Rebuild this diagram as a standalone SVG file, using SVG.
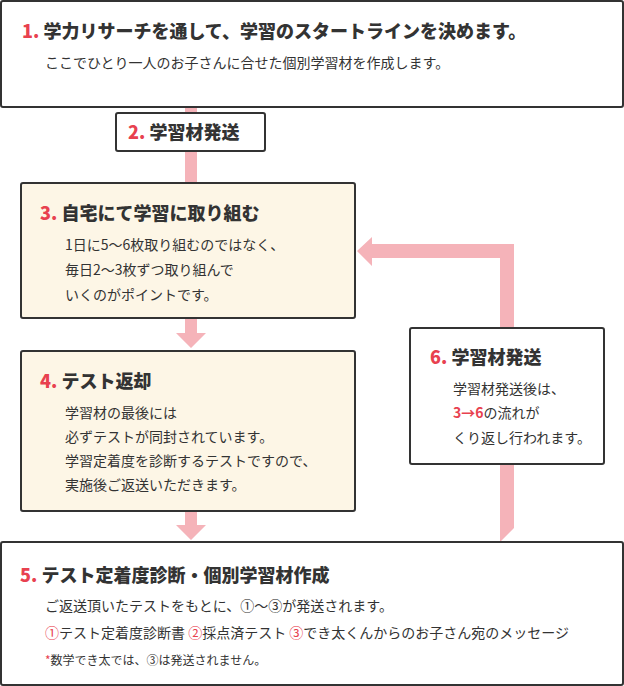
<svg xmlns="http://www.w3.org/2000/svg" width="624" height="686" viewBox="0 0 624 686">
<style>
text{font-family:"Noto Sans CJK JP","Noto Sans",sans-serif;fill:#333}
.t{font-size:18px;font-weight:900}
.b{font-size:14px}
.s{font-size:12px}
.r{fill:#e8414f}
.box{fill:#fff;stroke:#333;stroke-width:2}
.cream{fill:#fdf6e6;stroke:#333;stroke-width:2}
.pink{fill:#f5b3b9}
</style>
<g id="connectors">
<rect class="pink" x="185" y="108" width="12" height="6"/>
<path class="pink" d="M185 151h12v47h9l-15 17-15-17h9z"/>
<path class="pink" d="M185 318h12v15h9l-15 15-15-15h9z"/>
<path class="pink" d="M185 511h12v14h9l-15 15-15-15h9z"/>
<path class="pink" d="M500 542V258H372v8l-15-15 15-14v7h142v284z"/>
</g>
<g id="n1"><rect class="box" x="1" y="1" width="622" height="106" rx="2"/>
<text class="t" x="22" y="38"><tspan class="r">1.</tspan> 学力リサーチを通して、学習のスタートラインを決めます。</text>
<text class="b" x="45" y="68">ここでひとり一人のお子さんに合せた個別学習材を作成します。</text></g>
<g id="n2"><rect class="box" x="116" y="113" width="149" height="38" rx="2"/>
<text class="t" x="128" y="139"><tspan class="r">2.</tspan> 学習材発送</text></g>
<g id="n3"><rect class="cream" x="21" y="183" width="334" height="135" rx="2"/>
<text class="t" x="40" y="220"><tspan class="r">3.</tspan> 自宅にて学習に取り組む</text>
<text class="b" x="65" y="250">1日に5～6枚取り組むのではなく、</text>
<text class="b" x="65" y="275">毎日2～3枚ずつ取り組んで</text>
<text class="b" x="65" y="300">いくのがポイントです。</text></g>
<g id="n4"><rect class="cream" x="21" y="351" width="334" height="160" rx="2"/>
<text class="t" x="40" y="388"><tspan class="r">4.</tspan> テスト返却</text>
<text class="b" x="65" y="418">学習材の最後には</text>
<text class="b" x="65" y="442">必ずテストが同封されています。</text>
<text class="b" x="65" y="466">学習定着度を診断するテストですので、</text>
<text class="b" x="65" y="490">実施後ご返送いただきます。</text></g>
<g id="n6"><rect class="box" x="410" y="328" width="194" height="136" rx="2"/>
<text class="t" x="430" y="364"><tspan class="r">6.</tspan> 学習材発送</text>
<text class="b" x="453" y="394">学習材発送後は、</text>
<text class="b" x="453" y="418"><tspan class="r" font-weight="bold">3→6</tspan>の流れが</text>
<text class="b" x="453" y="443">くり返し行われます。</text></g>
<g id="n5"><rect class="box" x="1" y="542" width="622" height="143" rx="2"/>
<text class="t" x="20" y="582"><tspan class="r">5.</tspan> テスト定着度診断・個別学習材作成</text>
<text class="b" x="45" y="611">ご返送頂いたテストをもとに、①～③が発送されます。</text>
<text class="b" x="45" y="638"><tspan class="r">①</tspan>テスト定着度診断書 <tspan class="r">②</tspan>採点済テスト <tspan class="r">③</tspan>でき太くんからのお子さん宛のメッセージ</text>
<text class="s" x="45" y="665"><tspan class="r">*</tspan>数学でき太では、③は発送されません。</text></g>
</svg>
